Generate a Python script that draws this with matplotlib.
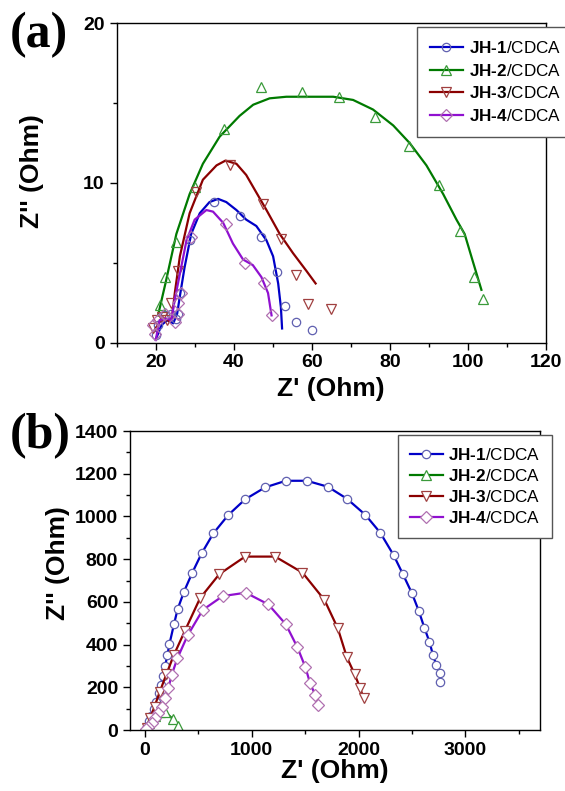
import matplotlib
matplotlib.use('Agg')
from matplotlib import pyplot as plt
from matplotlib.ticker import MultipleLocator, FixedLocator

plt.rcParams['font.family'] = ['Liberation Sans', 'DejaVu Sans']
plt.rcParams['mathtext.fontset'] = 'custom'
plt.rcParams['mathtext.bf'] = 'Liberation Sans:bold'
plt.rcParams['mathtext.rm'] = 'Liberation Sans'

labels = ['$\\mathbf{JH\u20101}$/CDCA', '$\\mathbf{JH\u20102}$/CDCA',
          '$\\mathbf{JH\u20103}$/CDCA', '$\\mathbf{JH\u20104}$/CDCA']

# (a) measured points
a1_x = [20.0, 20.6, 22.3, 24.0, 25.3, 25.8, 26.3, 28.7, 35.0, 41.5, 47.1, 51.0, 53.1, 55.9, 60.1]
a1_y = [0.5, 1.1, 1.7, 1.8, 1.5, 1.8, 3.1, 6.4, 8.8, 7.9, 6.6, 4.4, 2.3, 1.3, 0.8]
a2_x = [21.0, 22.5, 25.1, 30.2, 37.4, 47.1, 57.4, 67.0, 76.3, 84.9, 92.6, 98.0, 101.6, 104.0]
a2_y = [2.34, 4.1, 6.3, 9.76, 13.4, 16.0, 15.7, 15.4, 14.1, 12.3, 9.9, 7.0, 4.1, 2.75]
a3_x = [19.3, 20.3, 21.5, 23.0, 24.0, 25.7, 30.3, 39.1, 47.4, 52.2, 55.9, 59.1, 65.0]
a3_y = [0.9, 1.4, 1.6, 1.4, 2.5, 4.5, 9.4, 11.1, 8.7, 6.5, 4.2, 2.4, 2.1]
a4_x = [19.3, 19.7, 20.5, 22.3, 24.9, 25.7, 25.7, 26.6, 29.1, 37.9, 43.0, 47.7, 49.8]
a4_y = [1.08, 0.56, 1.4, 1.8, 1.3, 1.8, 2.5, 3.1, 6.6, 7.4, 5.0, 3.7, 1.7]

# (a) fitted curves
f1_x = [20.2, 21.5, 23.0, 24.5, 25.5, 26.2, 27.4, 29.1, 31.3, 33.8, 36.0, 38.1, 40.7, 43.2, 45.8, 48.4, 50.1, 51.4, 52.1, 52.4]
f1_y = [0.3, 1.1, 1.4, 1.2, 1.8, 2.9, 4.7, 6.8, 8.1, 8.8, 9.0, 8.8, 8.3, 7.7, 7.3, 6.4, 5.4, 3.7, 2.2, 0.88]
f2_x = [20.6, 22.5, 25.3, 28.7, 32.1, 36.4, 41.5, 45.0, 49.2, 53.5, 60.3, 65.5, 70.6, 75.7, 80.9, 85.1, 89.4, 93.7, 97.1, 99.2, 101.4, 103.5]
f2_y = [1.7, 3.7, 6.8, 9.3, 11.2, 12.9, 14.2, 14.9, 15.3, 15.4, 15.4, 15.4, 15.2, 14.6, 13.6, 12.5, 11.1, 9.3, 7.7, 6.8, 5.0, 3.3]
f3_x = [19.8, 21.0, 22.5, 23.6, 24.2, 24.9, 26.2, 28.7, 32.1, 35.6, 37.9, 40.7, 43.2, 45.8, 48.4, 51.8, 55.2, 58.6, 61.0]
f3_y = [0.8, 1.3, 1.5, 1.3, 1.6, 3.1, 5.4, 8.1, 10.2, 11.1, 11.4, 11.2, 10.5, 9.4, 8.3, 6.8, 5.6, 4.5, 3.7]
f4_x = [20.0, 21.0, 22.7, 24.0, 24.9, 26.2, 27.9, 30.0, 33.0, 34.7, 37.3, 39.8, 42.4, 44.9, 47.1, 48.8, 49.7]
f4_y = [0.15, 1.4, 1.5, 1.4, 2.7, 4.3, 6.4, 7.7, 8.3, 8.2, 7.5, 6.2, 5.2, 4.85, 4.1, 3.1, 1.7]

# (b)
b1_x = [2766, 2759, 2728, 2697, 2663, 2616, 2563, 2500, 2416, 2328, 2203, 2063, 1891, 1713, 1516, 1319, 1125, 938, 781, 641, 531, 444, 366, 306, 272, 230, 210, 190, 170, 150, 130, 108, 85, 60, 38, 15]
b1_y = [226, 265, 304, 351, 414, 479, 559, 640, 729, 819, 924, 1008, 1083, 1139, 1167, 1167, 1136, 1080, 1007, 921, 827, 737, 648, 565, 495, 403, 351, 300, 255, 212, 172, 132, 98, 66, 40, 12]
b2_x = [5, 40, 90, 140, 187, 265, 312]
b2_y = [3, 35, 65, 85, 86, 50, 20]
b3_x = [2047, 2016, 1963, 1891, 1806, 1681, 1475, 1219, 938, 697, 516, 375, 270, 200, 140, 90, 50, 15]
b3_y = [148, 195, 262, 340, 476, 609, 737, 812, 812, 730, 617, 465, 350, 260, 180, 110, 55, 10]
b4_x = [1616, 1594, 1547, 1500, 1428, 1319, 1156, 944, 728, 541, 400, 305, 250, 219, 187, 156, 125, 94, 63, 31, 10]
b4_y = [117, 164, 219, 297, 387, 495, 588, 643, 627, 562, 443, 337, 257, 195, 148, 109, 78, 55, 31, 15, 5]

line_c = ['#0000c8', '#007a00', '#8b0000', '#9010d0']
mark_c = ['#6060b0', '#3a9a3a', '#a04040', '#b070b0']
marks = ['o', '^', 'v', 'D']
msz = [6, 7.5, 7.5, 6]

fig = plt.figure(figsize=(5.65, 7.91), dpi=100)
ax1 = fig.add_axes([0.2065, 0.567, 0.7595, 0.4035])
ax2 = fig.add_axes([0.230, 0.0771, 0.726, 0.378])

# panel (a)
handles = []
for fx, fy, mx, my, i in [(f1_x, f1_y, a1_x, a1_y, 0), (f2_x, f2_y, a2_x, a2_y, 1),
                          (f3_x, f3_y, a3_x, a3_y, 2), (f4_x, f4_y, a4_x, a4_y, 3)]:
    ln, = ax1.plot(fx, fy, c=line_c[i], lw=1.6)
    mk, = ax1.plot(mx, my, ls='none', marker=marks[i], ms=msz[i], mfc='none',
                   mec=mark_c[i], mew=0.9)
    handles.append((ln, mk))
ax1.set_xlim(10, 120)
ax1.set_ylim(0, 20)
ax1.xaxis.set_major_locator(FixedLocator([20, 40, 60, 80, 100, 120]))
ax1.xaxis.set_minor_locator(MultipleLocator(10))
ax1.yaxis.set_major_locator(MultipleLocator(10))
ax1.yaxis.set_minor_locator(MultipleLocator(5))
ax1.set_xlabel("Z' (Ohm)", fontsize=19, fontweight='bold', labelpad=4)
ax1.set_ylabel("Z'' (Ohm)", fontsize=19, fontweight='bold')
ax1.yaxis.set_label_coords(-0.169, 0.537)
ax1.legend(handles, labels, loc='upper left', bbox_to_anchor=(0.738, 0.966),
           bbox_transform=fig.transFigure, borderaxespad=0, fontsize=12.3,
           numpoints=1, handlelength=1.95, handletextpad=0.35, labelspacing=0.4,
           borderpad=0.75, fancybox=False, edgecolor='#555555', framealpha=1)

# panel (b)
for bx, by, i in [(b1_x, b1_y, 0), (b2_x, b2_y, 1), (b3_x, b3_y, 2), (b4_x, b4_y, 3)]:
    ax2.plot(bx, by, c=line_c[i], lw=1.6, marker=marks[i], ms=msz[i], mfc='white',
             mec=mark_c[i], mew=0.9, label=labels[i])
ax2.set_xlim(-140, 3700)
ax2.set_ylim(0, 1400)
ax2.xaxis.set_major_locator(FixedLocator([0, 1000, 2000, 3000]))
ax2.xaxis.set_minor_locator(MultipleLocator(500))
ax2.yaxis.set_major_locator(MultipleLocator(200))
ax2.yaxis.set_minor_locator(MultipleLocator(100))
ax2.set_xlabel("Z' (Ohm)", fontsize=19, fontweight='bold', labelpad=0)
ax2.set_ylabel("Z'' (Ohm)", fontsize=19, fontweight='bold')
ax2.yaxis.set_label_coords(-0.146, 0.558)
ax2.legend(loc='upper left', bbox_to_anchor=(0.704, 0.450),
           bbox_transform=fig.transFigure, borderaxespad=0, fontsize=12.3,
           numpoints=1, handlelength=1.95, handletextpad=0.3, labelspacing=0.3,
           borderpad=0.7, fancybox=False, edgecolor='#555555', framealpha=1)

for ax in (ax1, ax2):
    ax.tick_params(axis='both', which='major', direction='out', length=5,
                   width=1, labelsize=14)
    ax.tick_params(axis='both', which='minor', direction='out', length=3, width=1)
    for lab in ax.get_xticklabels() + ax.get_yticklabels():
        lab.set_fontweight('bold')
    for sp in ax.spines.values():
        sp.set_linewidth(1)

fig.text(0.017, 0.985, '(a)', fontsize=36, fontweight='bold',
         family='Liberation Serif', va='top', ha='left')
fig.text(0.017, 0.478, '(b)', fontsize=36, fontweight='bold',
         family='Liberation Serif', va='top', ha='left')

fig.savefig('out.png', dpi=100)
